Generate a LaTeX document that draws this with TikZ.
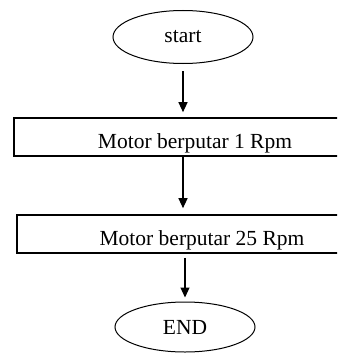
\documentclass[tikz,border=0pt]{standalone}
\usepackage{fontspec}
\setmainfont{Liberation Serif}
\usetikzlibrary{shapes.geometric,arrows.meta}

\begin{document}
\begin{tikzpicture}[x=1pt,y=-1pt,
    terminal/.style={draw,ellipse,line width=1pt,minimum width=140pt,minimum height=53pt,
      inner sep=0pt,font=\fontsize{21.5}{26}\selectfont},
    process/.style={draw,rectangle,line width=1.6pt,minimum height=38pt,inner sep=0pt,
      text height=22pt,text depth=0pt,font=\fontsize{21.5}{26}\selectfont},
    flow/.style={line width=1.2pt,-{Triangle[width=9pt,length=10pt]}}]
    % Define frame
    \path[use as bounding box,clip] (0,0) rectangle (337,353);

    % Draw steps
    \node[terminal] (start) at (183,37) {start};
    \node[process,minimum width=362pt] (motorA) at (195,137) {Motor berputar 1 Rpm};
    \node[process,minimum width=370pt] (motorB) at (202,234) {Motor berputar 25 Rpm};
    \node[terminal,minimum height=50pt] (finish) at (185,327) {END};

    % Draw flow arrows
    \draw[flow,shorten <=7pt,shorten >=5pt] (start.south) -- (start.south |- motorA.north);
    \draw[flow,shorten >=6pt] (motorA.south -| start) -- (motorB.north -| start);
    \draw[flow,shorten <=4pt,shorten >=4pt] (motorB.south -| finish) -- (finish.north);
\end{tikzpicture}
\end{document}
